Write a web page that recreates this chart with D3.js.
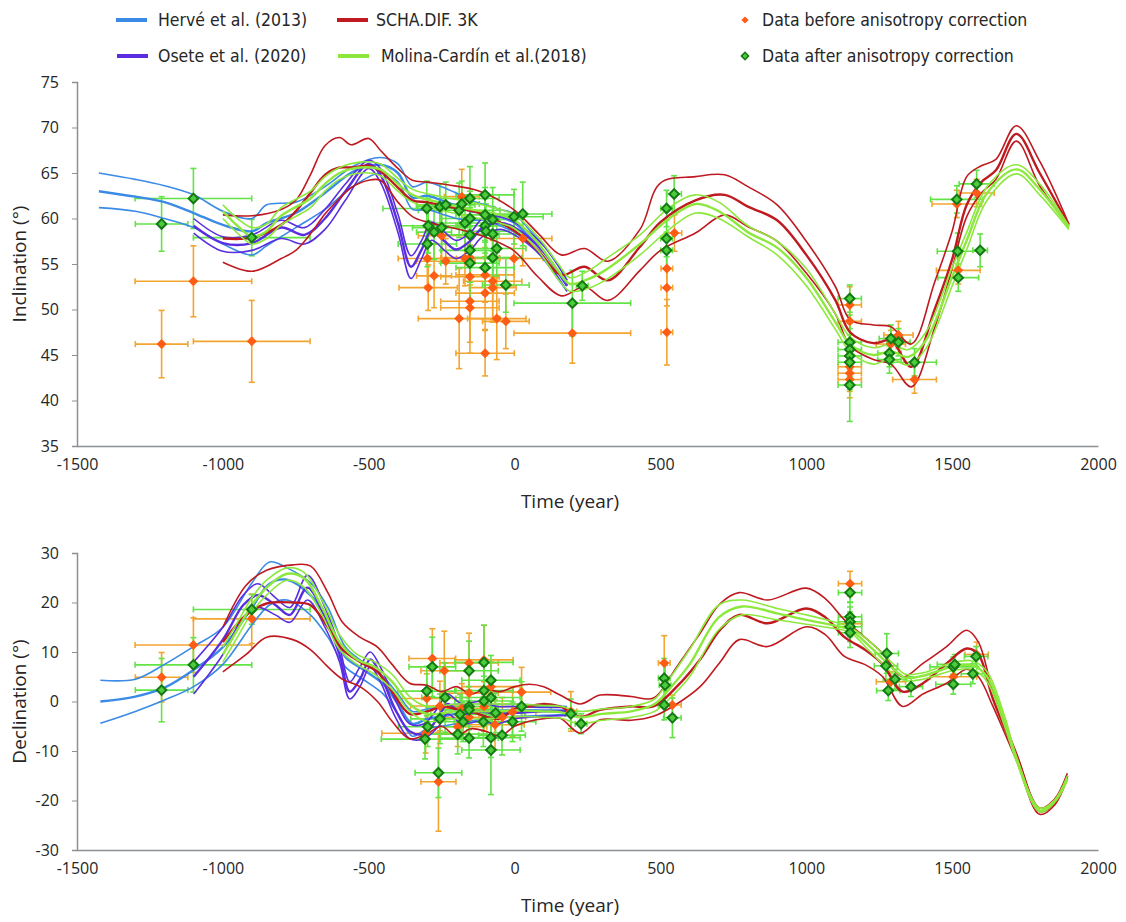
<!DOCTYPE html>
<html>
<head>
<meta charset="utf-8">
<script src="https://cdn.jsdelivr.net/npm/d3@7"></script>
<style>
  body { margin: 0; background: #fff; }
  svg text { font-family: "Open Sans", "Noto Sans", sans-serif; fill: #262626; }
  .legend text { font-family: "Liberation Sans Narrow", "DejaVu Sans Condensed", sans-serif; }
</style>
</head>
<body>
<svg id="chart" width="1126" height="922"></svg>
<script>
// axis ticks
const xTicks = [-1500, -1000, -500, 0, 500, 1000, 1500, 2000];
const incTicks = [35, 40, 45, 50, 55, 60, 65, 70, 75];
const decTicks = [-30, -20, -10, 0, 10, 20, 30];

// model curves: [year, upper, mean, lower]
const herveInc = [
  [-1425, 65.0, 63.0, 61.2], [-1300, 64.3, 62.4, 60.8], [-1200, 63.6, 61.8, 60.0],
  [-1100, 62.6, 60.6, 59.0], [-1000, 60.8, 59.3, 57.2], [-900, 60.0, 58.6, 56.0],
  [-850, 61.5, 59.5, 57.0], [-750, 61.8, 60.6, 59.0], [-650, 63.5, 62.8, 61.0],
  [-550, 65.8, 65.2, 63.6], [-460, 66.7, 65.9, 65.0], [-400, 66.0, 65.0, 64.0],
  [-350, 63.5, 62.3, 61.0], [-300, 64.0, 62.5, 61.0], [-250, 63.5, 62.0, 60.5],
  [-200, 62.8, 61.4, 60.0], [-150, 62.0, 60.8, 59.8], [-100, 61.5, 60.6, 59.8],
  [-50, 61.0, 60.2, 59.2], [0, 60.5, 59.5, 58.5], [50, 58.8, 58.0, 57.2],
  [100, 57.0, 56.3, 55.5], [150, 54.8, 54.0, 53.3], [180, 53.2, 52.6, 52.0]
];
const oseteInc = [
  [-1100, 60.0, 59.2, 58.4], [-1000, 58.0, 57.3, 56.4], [-900, 58.2, 57.3, 56.5],
  [-800, 59.8, 59.0, 57.8], [-720, 59.0, 58.2, 57.2], [-650, 61.0, 60.0, 58.8],
  [-580, 63.8, 63.0, 62.0], [-500, 66.4, 66.0, 65.5], [-460, 65.5, 64.8, 64.0],
  [-400, 60.5, 59.5, 58.5], [-355, 55.9, 54.7, 53.4], [-320, 57.5, 56.5, 55.5],
  [-285, 59.6, 58.6, 57.6], [-240, 58.5, 57.5, 56.5], [-200, 57.6, 56.6, 55.6],
  [-150, 58.5, 57.6, 56.6], [-110, 60.0, 59.0, 58.0], [-50, 60.2, 59.5, 58.8],
  [0, 59.6, 59.0, 58.2], [100, 57.0, 56.3, 55.6], [180, 53.2, 52.6, 52.0]
];
const schaInc = [
  [-1000, 60.4, 57.8, 55.2], [-900, 60.3, 57.9, 54.2], [-800, 61.0, 59.3, 55.6],
  [-750, 62.0, 60.8, 56.5], [-700, 64.8, 62.8, 58.3], [-650, 68.0, 64.8, 60.5],
  [-600, 68.9, 65.6, 62.2], [-560, 68.1, 65.6, 63.4], [-500, 68.8, 65.8, 64.2],
  [-460, 67.5, 65.2, 64.2], [-400, 65.5, 63.4, 61.8], [-350, 64.2, 62.0, 60.2],
  [-300, 64.0, 61.8, 59.6], [-230, 63.7, 61.3, 59.1], [-120, 63.0, 60.6, 58.2],
  [-4, 61.0, 58.7, 56.5], [80, 58.4, 56.5, 53.6], [160, 56.0, 53.8, 51.5],
  [240, 56.7, 54.7, 52.5], [320, 55.3, 53.2, 51.0], [430, 58.8, 56.9, 54.3],
  [500, 63.9, 59.6, 56.5], [620, 64.6, 62.0, 58.4], [720, 64.8, 62.6, 60.4],
  [800, 63.5, 61.3, 59.1], [900, 61.5, 59.8, 57.5], [1000, 57.5, 56.0, 54.0],
  [1100, 52.5, 51.0, 49.5], [1150, 48.9, 47.5, 46.0], [1230, 48.3, 46.3, 44.5],
  [1290, 48.1, 46.6, 44.0], [1360, 46.2, 43.7, 41.5], [1440, 53.0, 50.0, 48.0],
  [1500, 58.6, 55.5, 54.5], [1550, 64.6, 61.5, 60.2], [1600, 65.8, 64.0, 62.8],
  [1650, 66.5, 65.3, 64.3], [1720, 70.2, 69.3, 68.5], [1800, 66.3, 65.0, 63.6],
  [1900, 59.4, 59.3, 59.2]
];
const molinaInc = [
  [-1000, 61.5, 60.8, 60.0], [-950, 60.0, 59.2, 58.4], [-900, 59.0, 58.0, 57.2],
  [-850, 59.4, 58.6, 57.8], [-800, 61.2, 60.3, 59.3], [-700, 63.0, 62.2, 61.2],
  [-650, 64.6, 63.8, 63.0], [-600, 65.6, 65.0, 64.3], [-530, 66.2, 65.6, 65.0],
  [-460, 66.0, 65.4, 64.7], [-400, 64.4, 63.8, 63.0], [-350, 63.2, 62.6, 61.8],
  [-250, 62.4, 61.7, 60.9], [-150, 61.8, 61.0, 60.2], [-50, 61.0, 60.4, 59.5],
  [0, 60.4, 59.8, 58.9], [80, 58.0, 57.3, 56.5], [150, 55.0, 54.2, 53.3],
  [190, 53.5, 52.8, 52.0], [250, 54.2, 53.3, 52.3], [310, 55.5, 54.3, 53.2],
  [430, 58.2, 57.2, 56.0], [530, 61.2, 60.0, 58.8], [620, 62.6, 61.6, 60.6],
  [700, 61.8, 60.8, 60.0], [800, 59.2, 58.5, 58.0], [900, 57.5, 56.8, 56.0],
  [1000, 54.5, 53.5, 52.6], [1100, 49.5, 48.6, 47.8], [1150, 47.0, 46.2, 45.4],
  [1230, 45.8, 45.0, 44.0], [1290, 46.2, 45.4, 44.6], [1350, 45.6, 44.8, 43.9],
  [1410, 47.5, 46.6, 45.7], [1500, 54.6, 53.6, 52.6], [1550, 58.5, 57.6, 56.6],
  [1620, 63.5, 62.8, 62.0], [1720, 65.9, 65.4, 64.9], [1800, 63.8, 63.2, 62.6],
  [1900, 59.2, 59.0, 58.8]
];

const herveDec = [
  [-1420, 4.3, 0.0, -4.4], [-1300, 4.5, 1.0, -2.0], [-1200, 7.5, 2.8, 0.3],
  [-1100, 11.1, 6.4, 3.0], [-1000, 15.0, 11.0, 7.5], [-900, 24.0, 19.0, 15.5],
  [-840, 28.2, 23.8, 19.5], [-780, 27.0, 24.6, 20.5], [-700, 24.0, 21.5, 17.5],
  [-640, 19.0, 16.5, 13.0], [-580, 11.0, 9.0, 7.0], [-520, 8.0, 6.5, 4.5],
  [-450, 5.0, 3.5, 1.5], [-400, 1.5, -0.5, -2.5], [-350, -2.0, -4.5, -7.0],
  [-300, -1.5, -3.5, -5.5], [-250, -1.0, -3.0, -5.0], [-200, -0.5, -2.5, -4.5],
  [-100, -0.5, -2.0, -3.5], [0, -0.5, -1.7, -3.0], [100, -0.8, -1.8, -2.8],
  [180, -1.0, -1.8, -2.6]
];
const oseteDec = [
  [-1100, 8.0, 5.0, 1.5], [-1000, 15.0, 12.5, 9.5], [-930, 21.5, 19.5, 17.0],
  [-880, 23.8, 21.5, 19.0], [-820, 21.0, 19.5, 17.5], [-770, 19.0, 17.5, 16.0],
  [-710, 25.5, 23.0, 20.5], [-650, 19.0, 17.0, 15.0], [-600, 11.0, 9.5, 8.0],
  [-565, 4.0, 2.0, 0.5], [-530, 7.0, 4.5, 3.0], [-495, 10.0, 8.5, 7.0],
  [-460, 7.0, 5.5, 4.0], [-410, 0.5, -1.5, -3.0], [-360, -4.5, -6.0, -7.5],
  [-310, -4.5, -6.5, -7.5], [-260, -1.0, -3.0, -5.0], [-230, 1.5, -0.5, -2.5],
  [-180, -0.5, -2.5, -4.5], [-120, 0.0, -2.0, -4.0], [-60, -1.0, -2.5, -4.5],
  [0, -1.0, -2.3, -3.5], [100, -1.2, -2.0, -3.0], [180, -1.2, -2.0, -2.8]
];
const schaDec = [
  [-1000, 15.0, 12.0, 6.0], [-920, 23.5, 17.5, 9.5], [-850, 26.5, 19.8, 13.0],
  [-760, 27.6, 20.0, 12.5], [-700, 27.4, 19.5, 10.5], [-640, 22.0, 15.0, 7.0],
  [-590, 16.0, 10.5, 4.5], [-530, 13.0, 8.0, 3.0], [-470, 11.0, 6.0, 0.0],
  [-420, 7.5, 2.0, -4.0], [-360, 3.7, -2.5, -7.5], [-300, 3.3, -2.0, -6.5],
  [-250, 2.0, -1.0, -5.0], [-200, 3.0, -1.5, -7.0], [-150, 1.5, -2.0, -5.5],
  [-100, 2.5, -3.0, -6.0], [-50, 2.0, -3.5, -7.0], [0, 3.0, -1.5, -5.0],
  [50, 3.5, -1.0, -4.0], [100, 3.0, -0.5, -3.5], [156, 1.3, -1.0, -3.4],
  [225, -0.5, -3.1, -6.4], [293, 1.3, -1.7, -3.7], [400, 1.0, -1.0, -3.8],
  [476, 0.7, -1.0, -3.0], [556, 7.0, 3.0, -0.5], [636, 13.8, 8.5, 3.0],
  [705, 19.8, 14.5, 8.0], [770, 22.0, 17.5, 12.5], [868, 20.5, 15.8, 11.1],
  [1000, 22.9, 18.8, 15.1], [1065, 20.8, 17.0, 13.5], [1131, 16.5, 13.0, 9.1],
  [1200, 13.0, 10.5, 7.5], [1262, 9.7, 7.5, 5.0], [1330, 5.0, 2.0, -1.0],
  [1400, 7.7, 3.7, 1.5], [1481, 11.1, 7.7, 3.7], [1550, 14.4, 10.7, 6.5],
  [1590, 12.0, 9.5, 5.0], [1640, 2.0, 0.5, -1.0], [1721, -10.5, -11.0, -12.0],
  [1800, -21.5, -22.2, -22.8], [1850, -19.8, -20.5, -21.0], [1895, -14.5, -15.0, -15.5]
];
const molinaDec = [
  [-1000, 11.0, 9.5, 8.0], [-950, 16.0, 14.5, 13.0], [-900, 21.0, 19.5, 18.0],
  [-850, 24.5, 23.0, 21.5], [-780, 27.0, 25.8, 24.5], [-720, 26.0, 24.8, 23.0],
  [-660, 20.5, 19.0, 17.5], [-600, 13.5, 12.0, 10.5], [-540, 9.5, 8.5, 7.5],
  [-480, 8.0, 7.0, 5.5], [-420, 5.5, 4.0, 2.5], [-360, 1.0, -0.5, -2.0],
  [-300, -1.0, -2.5, -4.0], [-200, -0.5, -2.0, -3.5], [-100, -0.5, -2.0, -3.5],
  [0, -0.5, -1.8, -3.0], [100, -0.8, -2.0, -3.2], [160, -1.0, -2.2, -3.4],
  [225, -2.0, -3.2, -4.5], [300, -1.5, -2.5, -3.8], [400, -1.0, -2.0, -3.2],
  [480, 0.5, -0.5, -2.0], [530, 4.5, 2.5, 0.5], [600, 10.5, 7.5, 5.0],
  [700, 19.5, 17.0, 14.5], [780, 20.5, 19.2, 17.5], [900, 18.8, 17.8, 16.5],
  [1000, 17.5, 16.5, 15.6], [1100, 16.0, 15.3, 14.7], [1150, 15.0, 14.5, 14.0],
  [1220, 12.0, 11.0, 10.0], [1300, 7.5, 6.5, 5.5], [1340, 5.5, 4.8, 4.2],
  [1400, 5.8, 5.2, 4.5], [1500, 7.8, 7.0, 6.2], [1570, 8.2, 7.3, 6.5],
  [1620, 6.0, 5.0, 4.0], [1680, -3.0, -4.0, -5.0], [1720, -11.0, -11.5, -12.0],
  [1800, -21.5, -22.0, -22.3], [1850, -20.0, -20.2, -20.5], [1895, -15.0, -15.5, -16.0]
];

// archaeomagnetic data: [year, value, ageError, valueError]
const incBefore = [
  [-1210, 46.2, 90, 3.7], [-1101, 53.1, 200, 3.9], [-901, 46.5, 200, 4.5],
  [-299, 55.6, 100, 3.0], [-296, 52.4, 100, 2.5], [-276, 53.7, 60, 3.5],
  [-250, 58.1, 80, 3.0], [-236, 55.3, 100, 2.5], [-190, 49.0, 140, 5.5],
  [-181, 62.4, 60, 3.0], [-170, 55.6, 120, 3.0], [-153, 55.7, 100, 3.0],
  [-153, 53.6, 100, 3.5], [-153, 50.9, 100, 4.5], [-153, 50.2, 100, 5.0],
  [-101, 53.8, 100, 3.0], [-101, 51.8, 100, 4.0], [-101, 45.2, 100, 2.5],
  [-75, 53.1, 100, 4.5], [-75, 52.4, 80, 3.5], [-61, 49.0, 100, 4.5],
  [-30, 48.7, 80, 3.0], [-2, 55.6, 100, 3.0], [28, 57.8, 100, 3.0],
  [198, 47.4, 200, 3.3], [522, 54.5, 20, 2.0], [522, 52.4, 20, 2.0],
  [522, 47.5, 20, 3.6], [548, 58.4, 25, 2.0], [1149, 50.5, 40, 2.0],
  [1149, 48.7, 40, 2.0], [1149, 43.7, 40, 2.0], [1149, 43.0, 40, 2.0],
  [1149, 42.3, 40, 2.0], [1290, 46.2, 50, 1.5], [1316, 47.2, 50, 1.5],
  [1371, 42.3, 75, 1.5], [1516, 61.6, 85, 1.5], [1521, 54.3, 75, 1.5],
  [1584, 62.8, 60, 1.5]
];
const incAfter = [
  [-1210, 59.4, 90, 3.0], [-1101, 62.2, 200, 3.3], [-901, 57.9, 200, 2.0],
  [-301, 61.1, 150, 3.0], [-299, 57.2, 100, 2.5], [-296, 59.2, 100, 3.0],
  [-276, 58.5, 60, 3.0], [-256, 61.3, 80, 2.5], [-250, 59.0, 100, 2.5],
  [-236, 61.5, 100, 2.5], [-190, 60.9, 140, 3.0], [-181, 61.6, 60, 2.5],
  [-170, 59.5, 120, 3.0], [-153, 62.2, 100, 3.5], [-153, 60.0, 100, 3.0],
  [-153, 58.2, 100, 3.0], [-153, 56.5, 100, 3.5], [-153, 55.1, 100, 4.0],
  [-101, 62.6, 100, 3.5], [-101, 60.4, 100, 3.0], [-101, 59.2, 100, 3.0],
  [-101, 54.6, 100, 3.0], [-98, 58.6, 80, 3.0], [-75, 59.9, 100, 3.5],
  [-75, 58.3, 80, 3.0], [-75, 55.7, 100, 3.5], [-61, 56.7, 100, 3.0],
  [-30, 52.7, 80, 3.0], [-2, 60.2, 100, 3.0], [28, 60.5, 100, 3.5],
  [198, 50.7, 200, 3.6], [232, 52.6, 20, 1.6], [521, 61.1, 20, 2.0],
  [521, 57.8, 20, 2.0], [521, 56.5, 20, 2.0], [547, 62.7, 25, 2.0],
  [1149, 51.2, 40, 1.5], [1149, 46.4, 40, 3.0], [1149, 45.6, 40, 3.0],
  [1149, 44.9, 40, 3.0], [1149, 44.2, 40, 3.0], [1149, 41.7, 40, 4.0],
  [1290, 46.8, 40, 1.5], [1316, 46.4, 40, 1.5], [1285, 45.2, 40, 1.5],
  [1285, 44.5, 40, 1.5], [1371, 44.2, 75, 1.5], [1516, 62.1, 90, 1.5],
  [1584, 63.8, 60, 1.5], [1519, 56.4, 70, 2.0], [1596, 56.5, 25, 1.8],
  [1521, 53.5, 70, 1.5]
];
const decBefore = [
  [-1210, 4.9, 90, 5.0], [-1101, 11.4, 200, 5.5], [-901, 16.7, 200, 5.0],
  [-305, -6.4, 150, 4.0], [-301, 0.6, 100, 5.0], [-282, 8.7, 80, 6.0],
  [-261, -16.2, 60, 10.0], [-256, -0.9, 100, 5.0], [-241, 6.2, 80, 8.0],
  [-195, -5.1, 100, 4.0], [-181, -1.4, 100, 5.0], [-156, 7.8, 100, 6.0],
  [-156, 1.7, 100, 4.0], [-156, -3.2, 100, 4.0], [-105, 8.4, 100, 7.0],
  [-105, -1.0, 100, 5.0], [-81, 3.0, 100, 5.0], [-67, -4.7, 100, 5.0],
  [-42, -3.2, 80, 4.0], [-7, -2.1, 80, 5.0], [24, 1.9, 100, 5.0],
  [193, -2.0, 20, 4.0], [513, 7.8, 20, 5.5], [541, -0.7, 30, 2.0],
  [1150, 23.8, 40, 2.5], [1150, 15.7, 40, 2.0], [1290, 4.0, 50, 2.0],
  [1504, 5.0, 80, 2.0], [1584, 9.5, 40, 2.5]
];
const decAfter = [
  [-1210, 2.3, 90, 6.4], [-1101, 7.4, 200, 5.5], [-901, 18.6, 200, 3.0],
  [-307, -7.6, 150, 4.0], [-301, 2.1, 100, 5.0], [-298, -5.1, 100, 4.0],
  [-282, 7.0, 80, 6.0], [-261, -14.4, 80, 5.0], [-256, -3.5, 100, 5.0],
  [-238, 0.8, 80, 7.0], [-195, -6.6, 100, 4.0], [-187, -2.6, 100, 4.0],
  [-176, -4.1, 100, 4.0], [-156, 6.2, 100, 6.0], [-156, -1.0, 100, 4.0],
  [-156, -1.7, 100, 4.0], [-156, -7.4, 100, 4.0], [-107, -4.1, 100, 5.0],
  [-105, 7.9, 100, 7.5], [-105, 2.2, 100, 5.0], [-105, 0.1, 100, 5.0],
  [-81, 4.3, 100, 5.0], [-81, 0.8, 100, 4.0], [-81, -7.3, 100, 4.0],
  [-81, -9.8, 100, 9.0], [-65, -2.3, 100, 4.0], [-43, -6.8, 80, 4.0],
  [-7, -4.1, 80, 4.0], [24, -1.0, 100, 5.0], [193, -2.5, 20, 3.0],
  [228, -4.5, 20, 2.0], [513, 4.7, 20, 4.0], [516, 3.3, 20, 4.0],
  [513, -0.7, 20, 3.0], [541, -3.3, 30, 4.0], [1150, 22.0, 40, 2.0],
  [1150, 17.1, 40, 3.0], [1150, 16.1, 40, 3.0], [1150, 15.1, 40, 3.0],
  [1150, 13.9, 40, 3.0], [1276, 9.7, 40, 4.0], [1273, 7.2, 40, 3.0],
  [1304, 4.5, 40, 2.0], [1281, 2.2, 40, 2.0], [1359, 3.0, 40, 2.0],
  [1504, 7.0, 80, 2.0], [1509, 7.5, 60, 2.0], [1504, 3.5, 60, 2.0],
  [1582, 9.1, 40, 2.0], [1571, 5.6, 40, 2.0]
];

const models = [
  { name: 'Hervé et al. (2013)', color: '#3b8ae6', inc: herveInc, dec: herveDec },
  { name: 'Osete et al. (2020)', color: '#5a2ee0', inc: oseteInc, dec: oseteDec },
  { name: 'SCHA.DIF. 3K', color: '#be1a20', inc: schaInc, dec: schaDec },
  { name: 'Molina-Cardín et al.(2018)', color: '#8de83e', inc: molinaInc, dec: molinaDec }
];

const orangeBar = '#f3a531', orangeFill = '#ff5c14';
const greenBar = '#62e346', greenFill = '#4ccb3c', greenEdge = '#137a13';

const svg = d3.select('#chart');

const x = d3.scaleLinear().domain([-1500, 2000]).range([77, 1098]);
const plain = d => String(d);

// one panel: axes, model envelopes, data with error bars
function drawPanel(key, yDomain, yRange, ticks, yTitle, before, after) {
  const y = d3.scaleLinear().domain(yDomain).range(yRange);
  const g = svg.append('g');

  const xAxis = g.append('g')
    .attr('transform', `translate(0,${yRange[0]})`)
    .call(d3.axisBottom(x).tickValues(xTicks).tickFormat(plain).tickSize(0).tickPadding(13));
  const yAxis = g.append('g')
    .attr('transform', `translate(${x.range()[0]},0)`)
    .call(d3.axisLeft(y).tickValues(ticks).tickFormat(plain).tickSize(5).tickPadding(13));
  [xAxis, yAxis].forEach(a => {
    a.select('.domain').attr('stroke', '#8c8f94').attr('stroke-width', 1.5);
    a.selectAll('.tick line').attr('stroke', '#8c8f94');
    a.selectAll('.tick text').style('font-size', '16px').attr('fill', '#262626');
  });

  g.append('text')
    .attr('x', 570).attr('y', yRange[0] + 62)
    .attr('text-anchor', 'middle')
    .style('font-size', '19px')
    .text('Time (year)');
  g.append('text')
    .attr('transform', `translate(26,${(yRange[0] + yRange[1]) / 2}) rotate(-90)`)
    .attr('text-anchor', 'middle')
    .style('font-size', '19px')
    .text(yTitle);

  // error bars
  function errorBars(data, color) {
    const eb = g.append('g').attr('stroke', color).attr('stroke-width', 1.6).attr('fill', 'none');
    data.forEach(d => {
      const cx = x(d[0]), cy = y(d[1]);
      const x0 = x(d[0] - d[2]), x1 = x(d[0] + d[2]);
      const y0 = y(d[1] - d[3]), y1 = y(d[1] + d[3]);
      eb.append('line').attr('x1', x0).attr('x2', x1).attr('y1', cy).attr('y2', cy);
      eb.append('line').attr('x1', x0).attr('x2', x0).attr('y1', cy - 3).attr('y2', cy + 3);
      eb.append('line').attr('x1', x1).attr('x2', x1).attr('y1', cy - 3).attr('y2', cy + 3);
      eb.append('line').attr('x1', cx).attr('x2', cx).attr('y1', y0).attr('y2', y1);
      eb.append('line').attr('x1', cx - 3).attr('x2', cx + 3).attr('y1', y0).attr('y2', y0);
      eb.append('line').attr('x1', cx - 3).attr('x2', cx + 3).attr('y1', y1).attr('y2', y1);
    });
  }
  errorBars(before, orangeBar);
  errorBars(after, greenBar);

  // model curves: upper, mean, lower
  models.forEach(m => {
    [1, 2, 3].forEach(col => {
      const line = d3.line()
        .x(d => x(d[0]))
        .y(d => y(d[col]))
        .curve(d3.curveCatmullRom.alpha(0.5));
      g.append('path')
        .datum(m[key])
        .attr('d', line)
        .attr('fill', 'none')
        .attr('stroke', m.color)
        .attr('stroke-width', col === 2 ? 2.4 : 1.6);
    });
  });

  // diamonds
  const diamond = d3.symbol().type(d3.symbolSquare);
  g.append('g').selectAll('path').data(before).join('path')
    .attr('d', diamond.size(50))
    .attr('transform', d => `translate(${x(d[0])},${y(d[1])}) rotate(45)`)
    .attr('fill', orangeFill);
  g.append('g').selectAll('path').data(after).join('path')
    .attr('d', diamond.size(46))
    .attr('transform', d => `translate(${x(d[0])},${y(d[1])}) rotate(45)`)
    .attr('fill', greenFill)
    .attr('stroke', greenEdge)
    .attr('stroke-width', 2);
}

drawPanel('inc', [35, 75], [446, 82], incTicks, 'Inclination (°)', incBefore, incAfter);
drawPanel('dec', [-30, 30], [850, 553], decTicks, 'Declination (°)', decBefore, decAfter);

// legend
const legend = svg.append('g').attr('class', 'legend');
const legendSlots = [
  { m: models[0], x: 116, tx: 158, y: 20 },
  { m: models[2], x: 337, tx: 376, y: 20 },
  { m: models[1], x: 117, tx: 158, y: 56 },
  { m: models[3], x: 338, tx: 381, y: 56 }
];
legendSlots.forEach(s => {
  legend.append('line')
    .attr('x1', s.x).attr('x2', s.x + 31)
    .attr('y1', s.y).attr('y2', s.y)
    .attr('stroke', s.m.color).attr('stroke-width', 4);
  legend.append('text')
    .attr('x', s.tx).attr('y', s.y)
    .attr('dy', '0.35em')
    .style('font-size', '17.5px')
    .text(s.m.name);
});
const markerLegend = [
  { label: 'Data before anisotropy correction', y: 20, fill: orangeFill, stroke: 'none' },
  { label: 'Data after anisotropy correction', y: 56, fill: greenFill, stroke: greenEdge }
];
markerLegend.forEach(d => {
  legend.append('path')
    .attr('d', d3.symbol().type(d3.symbolSquare).size(26)())
    .attr('transform', `translate(745,${d.y}) rotate(45)`)
    .attr('fill', d.fill)
    .attr('stroke', d.stroke)
    .attr('stroke-width', 1.5);
  legend.append('text')
    .attr('x', 762).attr('y', d.y)
    .attr('dy', '0.35em')
    .style('font-size', '17.5px')
    .text(d.label);
});
</script>
</body>
</html>
